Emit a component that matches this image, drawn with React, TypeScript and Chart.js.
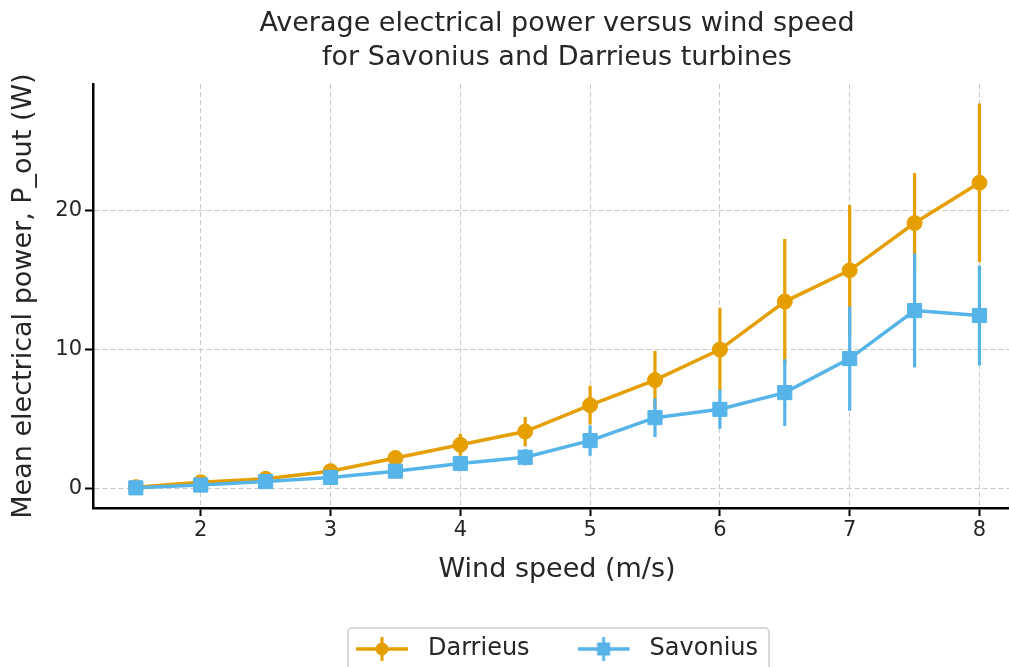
import React, { useEffect, useRef } from "react";
import { Chart, registerables } from "chart.js";

Chart.register(...registerables);

// ---- data ----
const windSpeeds = [1.5, 2, 2.5, 3, 3.5, 4, 4.5, 5, 5.5, 6, 6.5, 7, 7.5, 8];
const darrieusPower = [0.1, 0.45, 0.7, 1.25, 2.2, 3.15, 4.1, 6.0, 7.8, 10.0, 13.45, 15.7, 19.1, 22.0];
const darrieusErr = [0.1, 0.15, 0.2, 0.3, 0.45, 0.8, 1.05, 1.4, 2.1, 3.0, 4.5, 4.7, 3.6, 5.7];
const savoniusPower = [0.05, 0.25, 0.5, 0.8, 1.25, 1.8, 2.25, 3.45, 5.1, 5.7, 6.9, 9.35, 12.8, 12.45];
const savoniusErr = [0.05, 0.1, 0.15, 0.2, 0.3, 0.45, 0.6, 1.1, 1.4, 1.4, 2.4, 3.75, 4.1, 3.6];
const seriesNames = ["Darrieus", "Savonius"];
const xTicks = [2, 3, 4, 5, 6, 7, 8];
const yTicks = [0, 10, 20];
const titleLines = ["Average electrical power versus wind speed", "for Savonius and Darrieus turbines"];
const xTitle = "Wind speed (m/s)";
const yTitle = "Mean electrical power, P_out (W)";

const ORANGE = "#E69F00";
const BLUE = "#56B4E9";
const TEXT = "#262626";
const FONT = "'DejaVu Sans', sans-serif";

const errorSeries = [darrieusErr, savoniusErr];

function makeIcon(color: string, style: string): HTMLCanvasElement {
  const c = document.createElement("canvas");
  c.width = 60;
  c.height = 28;
  const g = c.getContext("2d")!;
  g.strokeStyle = color;
  g.fillStyle = color;
  g.lineWidth = 3.5;
  g.beginPath();
  g.moveTo(0, 14);
  g.lineTo(52, 14);
  g.stroke();
  g.lineWidth = 3;
  g.beginPath();
  g.moveTo(26, 2);
  g.lineTo(26, 26);
  g.stroke();
  if (style === "circle") {
    g.beginPath();
    g.arc(26, 14, 6.5, 0, Math.PI * 2);
    g.fill();
  } else {
    g.fillRect(26 - 6.5, 14 - 6.5, 13, 13);
  }
  return c;
}

const errorBarPlugin = {
  id: "errorBars",
  beforeDatasetDraw(chart: any, args: any) {
    const i = args.index;
    const ds = chart.data.datasets[i];
    const errs = errorSeries[i];
    const xs = chart.scales.x;
    const ys = chart.scales.y;
    const ctx = chart.ctx;
    ctx.save();
    ctx.strokeStyle = ds.borderColor;
    ctx.lineWidth = 3.2;
    ctx.beginPath();
    ds.data.forEach((p: any, k: number) => {
      const px = xs.getPixelForValue(p.x);
      ctx.moveTo(px, ys.getPixelForValue(p.y - errs[k]));
      ctx.lineTo(px, ys.getPixelForValue(p.y + errs[k]));
    });
    ctx.stroke();
    ctx.restore();
  },
};

const legendBoxPlugin = {
  id: "legendBox",
  afterDraw(chart: any) {
    const lg = chart.legend;
    if (!lg || !lg.legendHitBoxes || !lg.legendHitBoxes.length) return;
    const hb = lg.legendHitBoxes;
    const left = Math.min(...hb.map((h: any) => h.left)) - 8;
    const right = Math.max(...hb.map((h: any) => h.left + h.width)) + 11;
    const top = hb[0].top + hb[0].height / 2 - 21;
    const bottom = top + 60;
    const ctx = chart.ctx;
    ctx.save();
    ctx.strokeStyle = "#cccccc";
    ctx.lineWidth = 1.5;
    ctx.beginPath();
    (ctx as any).roundRect(left, top, right - left, bottom - top, 4);
    ctx.stroke();
    ctx.restore();
  },
};

export default function App() {
  const ref = useRef<HTMLCanvasElement | null>(null);

  useEffect(() => {
    if (!ref.current) return;
    const icons = [makeIcon(ORANGE, "circle"), makeIcon(BLUE, "rect")];
    const chart = new Chart(ref.current, {
      type: "line",
      data: {
        datasets: [
          {
            label: seriesNames[0],
            data: windSpeeds.map((x, i) => ({ x, y: darrieusPower[i] })),
            borderColor: ORANGE,
            backgroundColor: ORANGE,
            borderWidth: 3.5,
            pointStyle: "circle",
            pointRadius: 7.5,
            pointBorderWidth: 1,
            pointBorderColor: ORANGE,
            pointBackgroundColor: ORANGE,
            order: 2,
          },
          {
            label: seriesNames[1],
            data: windSpeeds.map((x, i) => ({ x, y: savoniusPower[i] })),
            borderColor: BLUE,
            backgroundColor: BLUE,
            borderWidth: 3.5,
            pointStyle: "rect",
            pointRadius: 10,
            pointBorderWidth: 1,
            pointBorderColor: BLUE,
            pointBackgroundColor: BLUE,
            order: 1,
          },
        ],
      },
      options: {
        responsive: false,
        animation: false,
        events: [],
        layout: { padding: 0, autoPadding: false },
        scales: {
          x: {
            type: "linear",
            min: 1.17,
            max: 8.32,
            afterBuildTicks: (s: any) => {
              s.ticks = xTicks.map((v) => ({ value: v }));
            },
            afterFit: (s: any) => {
              s.height = 81;
              s.paddingLeft = 0;
              s.paddingRight = 0;
            },
            ticks: {
              color: TEXT,
              font: { family: FONT, size: 21 },
              padding: 2,
              maxRotation: 0,
            },
            grid: {
              color: "#c8c8c8",
              lineWidth: 1,
              drawTicks: true,
              tickLength: 8,
              tickColor: "#000000",
              tickWidth: 2,
            },
            border: { display: true, color: "#000000", width: 2.5, dash: [5, 3] },
            title: {
              display: true,
              text: xTitle,
              color: TEXT,
              font: { family: FONT, size: 27 },
              padding: { top: 0, bottom: 3 },
            },
          },
          y: {
            type: "linear",
            min: -1.4,
            max: 29.1,
            afterBuildTicks: (s: any) => {
              s.ticks = yTicks.map((v) => ({ value: v }));
            },
            afterFit: (s: any) => {
              s.width = 93;
              s.paddingTop = 0;
              s.paddingBottom = 0;
            },
            ticks: {
              color: TEXT,
              font: { family: FONT, size: 21 },
              padding: 3,
            },
            grid: {
              color: "#c8c8c8",
              lineWidth: 1,
              drawTicks: true,
              tickLength: 8,
              tickColor: "#000000",
              tickWidth: 2,
            },
            border: { display: true, color: "#000000", width: 2.5, dash: [5, 3] },
            title: {
              display: true,
              text: yTitle,
              color: TEXT,
              font: { family: FONT, size: 27 },
              padding: { top: 8, bottom: 0 },
            },
          },
        },
        plugins: {
          title: {
            display: true,
            text: titleLines,
            color: TEXT,
            fullSize: false,
            font: { family: FONT, size: 27, weight: "normal", lineHeight: 1.26 },
            padding: { top: 7, bottom: 9 },
          },
          legend: {
            display: true,
            position: "bottom",
            fullSize: false,
            labels: {
              usePointStyle: true,
              pointStyleWidth: 60,
              padding: 48,
              color: TEXT,
              font: { family: FONT, size: 24 },
              generateLabels: (c: any) =>
                c.data.datasets.map((ds: any, i: number) => ({
                  text: ds.label,
                  pointStyle: icons[i],
                  fillStyle: ds.borderColor,
                  strokeStyle: ds.borderColor,
                  lineWidth: 0,
                  hidden: false,
                  datasetIndex: i,
                  fontColor: TEXT,
                })),
            },
          },
          tooltip: { enabled: false },
        },
      },
      plugins: [errorBarPlugin, legendBoxPlugin],
    } as any);
    return () => chart.destroy();
  }, []);

  return (
    <div
      style={{
        position: "fixed",
        left: 0,
        top: 0,
        width: 1009,
        height: 667,
        overflow: "hidden",
        background: "#ffffff",
      }}
    >
      <canvas ref={ref} width={1021} height={671} style={{ display: "block", width: 1021, height: 671 }} />
    </div>
  );
}
